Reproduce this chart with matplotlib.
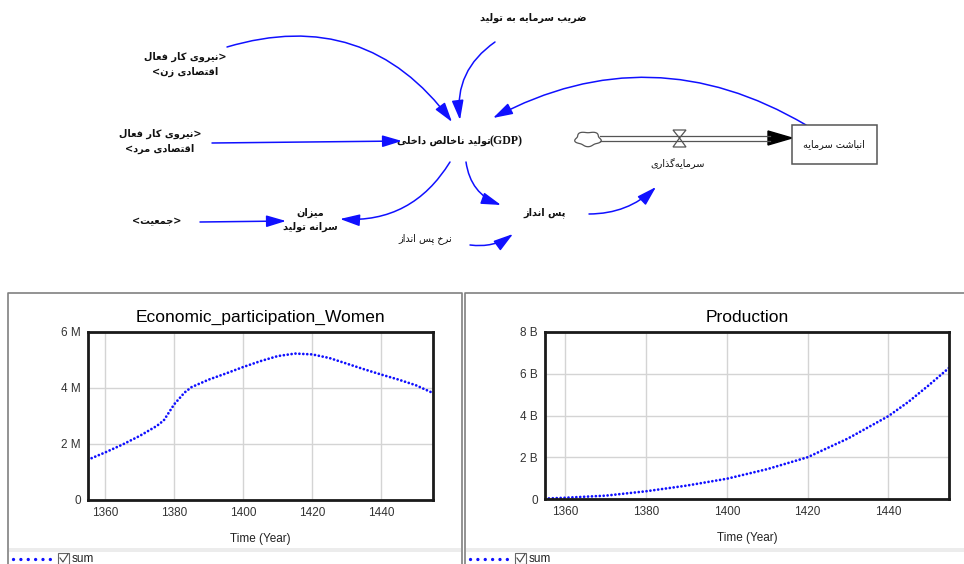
import numpy as np
import matplotlib.pyplot as plt
from matplotlib.patches import FancyArrowPatch, Rectangle, Polygon, ArrowStyle
from matplotlib.ticker import FuncFormatter

# simulation output
YEARS_W = [1355, 1360, 1365, 1370, 1375, 1377, 1380, 1383, 1385, 1390, 1395, 1400,
           1405, 1410, 1415, 1420, 1425, 1430, 1435, 1440, 1445, 1450, 1455]
WOMEN = [1.44, 1.70, 1.98, 2.29, 2.65, 2.85, 3.42, 3.84, 4.03, 4.30, 4.52, 4.75,
         4.96, 5.14, 5.23, 5.20, 5.07, 4.87, 4.67, 4.48, 4.30, 4.10, 3.82]  # millions
YEARS_P = [1355, 1360, 1370, 1380, 1390, 1400, 1410, 1420, 1430, 1440, 1445, 1450, 1455]
PRODUCTION = [0.02, 0.06, 0.16, 0.37, 0.64, 0.97, 1.43, 2.0, 2.9, 3.97, 4.66, 5.45, 6.28]  # billions

X_TICKS = [1360, 1380, 1400, 1420, 1440]
BLUE = '#1010ff'
FA = 'DejaVu Sans'

# --- minimal Persian shaping: (isolated, final, initial, medial) ---
FORMS = {
    'ا': ('\uFE8D', '\uFE8E', None, None),
    'آ': ('\uFE81', '\uFE82', None, None),
    'ب': ('\uFE8F', '\uFE90', '\uFE91', '\uFE92'),
    'پ': ('\uFB56', '\uFB57', '\uFB58', '\uFB59'),
    'ت': ('\uFE95', '\uFE96', '\uFE97', '\uFE98'),
    'ج': ('\uFE9D', '\uFE9E', '\uFE9F', '\uFEA0'),
    'خ': ('\uFEA5', '\uFEA6', '\uFEA7', '\uFEA8'),
    'د': ('\uFEA9', '\uFEAA', None, None),
    'ذ': ('\uFEAB', '\uFEAC', None, None),
    'ر': ('\uFEAD', '\uFEAE', None, None),
    'ز': ('\uFEAF', '\uFEB0', None, None),
    'س': ('\uFEB1', '\uFEB2', '\uFEB3', '\uFEB4'),
    'ش': ('\uFEB5', '\uFEB6', '\uFEB7', '\uFEB8'),
    'ص': ('\uFEB9', '\uFEBA', '\uFEBB', '\uFEBC'),
    'ض': ('\uFEBD', '\uFEBE', '\uFEBF', '\uFEC0'),
    'ع': ('\uFEC9', '\uFECA', '\uFECB', '\uFECC'),
    'ف': ('\uFED1', '\uFED2', '\uFED3', '\uFED4'),
    'ق': ('\uFED5', '\uFED6', '\uFED7', '\uFED8'),
    'ک': ('\uFB8E', '\uFB8F', '\uFB90', '\uFB91'),
    'گ': ('\uFB92', '\uFB93', '\uFB94', '\uFB95'),
    'ل': ('\uFEDD', '\uFEDE', '\uFEDF', '\uFEE0'),
    'م': ('\uFEE1', '\uFEE2', '\uFEE3', '\uFEE4'),
    'ن': ('\uFEE5', '\uFEE6', '\uFEE7', '\uFEE8'),
    'ه': ('\uFEE9', '\uFEEA', '\uFEEB', '\uFEEC'),
    'و': ('\uFEED', '\uFEEE', None, None),
    'ی': ('\uFBFC', '\uFBFD', '\uFBFE', '\uFBFF'),
}


def fa(text):
    """shape Persian text and return it in visual (left-to-right) order"""
    out = []
    for i, c in enumerate(text):
        if c not in FORMS:
            if c != '\u200c':
                out.append(c)
            continue
        prev = text[i - 1] if i > 0 else ''
        nxt = text[i + 1] if i + 1 < len(text) else ''
        j_prev = prev in FORMS and FORMS[prev][2] is not None
        j_next = nxt in FORMS and FORMS[c][2] is not None
        iso, fin, ini, med = FORMS[c]
        if j_prev and j_next:
            out.append(med)
        elif j_prev:
            out.append(fin)
        elif j_next:
            out.append(ini)
        else:
            out.append(iso)
    return ''.join(out[::-1])


fig = plt.figure(figsize=(9.64, 5.64), dpi=100)
bg = fig.add_axes([0, 0, 1, 1])
bg.set_xlim(0, 964)
bg.set_ylim(564, 0)
bg.axis('off')


def label(x, y, s, bold=True, size=7, ha='center'):
    bg.text(x, y, s, ha=ha, va='center', fontsize=size, family=FA,
            fontweight='bold' if bold else 'normal', color='#111111')


label(533, 18, fa('ضریب سرمایه به تولید'))
label(185, 57, fa('نیروی کار فعال') + '>')
label(185, 72, '<' + fa('اقتصادی زن'))
label(160, 134, fa('نیروی کار فعال') + '>')
label(160, 149, '<' + fa('اقتصادی مرد'))
label(491, 141, fa('تولید ناخالص داخلی'), ha='right')
bg.text(490, 141, '(GDP)', ha='left', va='center', fontsize=8.5, family='Liberation Serif',
        fontweight='bold', color='#111111')
label(157, 221, '<' + fa('جمعیت') + '>')
label(310, 213, fa('میزان'))
label(310, 227, fa('سرانه تولید'))
label(425, 239, fa('نرخ پس انداز'), bold=False)
label(545, 213, fa('پس انداز'))
label(678, 164, fa('سرمایه‌گذاری'), bold=False)
label(834, 144, fa('انباشت سرمایه'), bold=False)

# causal links
head = ArrowStyle('-|>', head_length=1.0, head_width=0.3)
links = [((227, 47), (452, 122), -0.35),
         ((495, 42), (460, 120), 0.3),
         ((212, 143), (402, 141), 0.0),
         ((806, 125), (493, 118), 0.28),
         ((450, 162), (340, 219), -0.3),
         ((466, 162), (501, 205), 0.3),
         ((200, 222), (286, 221), 0.0),
         ((470, 245), (513, 234), 0.2),
         ((589, 214), (656, 187), 0.2)]
for a, b, rad in links:
    bg.add_patch(FancyArrowPatch(a, b, arrowstyle=head, mutation_scale=12,
                                 connectionstyle=f'arc3,rad={rad}', color=BLUE,
                                 lw=1.1, shrinkA=0, shrinkB=0))

# flow pipe, valve, cloud and stock
bg.plot([600, 770], [135.5, 135.5], color='#555555', lw=0.9)
bg.plot([600, 770], [140.5, 140.5], color='#555555', lw=0.9)
bg.add_patch(Polygon([(768, 131), (792, 138), (768, 145)], closed=True, color='black'))
bg.add_patch(Polygon([(673, 130), (686, 130), (679.5, 138)], closed=True,
                     facecolor='white', edgecolor='#555555', lw=0.9))
bg.add_patch(Polygon([(679.5, 138), (673, 147), (686, 147)], closed=True,
                     facecolor='white', edgecolor='#555555', lw=0.9))
t = np.linspace(0, 2 * np.pi, 120)
r = 1 + 0.1 * np.sin(5 * t)
bg.add_patch(Polygon(np.column_stack([588 + 12.5 * r * np.cos(t), 139 + 7 * r * np.sin(t)]),
                     closed=True, facecolor='white', edgecolor='#555555', lw=0.9))
bg.add_patch(Rectangle((792, 125), 85, 39, facecolor='white', edgecolor='#555555', lw=1.1))

# graph panel frames
pc = '#808080'
bg.plot([8, 8, 462, 462], [564, 293, 293, 564], color=pc, lw=1.2)
bg.plot([465, 465, 964], [564, 293, 293], color=pc, lw=1.2)
for x0, x1 in [(9, 461), (466, 964)]:
    bg.add_patch(Rectangle((x0, 548), x1 - x0, 4, color='#ececec', lw=0))
    bg.plot([x0 + 4, x0 + 44], [559, 559], color=BLUE, lw=2.4, linestyle=(0, (0.01, 2.2)),
            dash_capstyle='round')
    bg.add_patch(Rectangle((x0 + 49, 553), 11, 11, facecolor='white', edgecolor='#666666', lw=0.8))
    bg.plot([x0 + 51, x0 + 54, x0 + 59], [558, 562, 554], color='#444444', lw=0.8)
    bg.text(x0 + 63, 559, 'sum', fontsize=8.5, family='Liberation Sans', va='center', color='#222222')


def graph(rect, title, years, vals, ymax, ystep, unit):
    ax = fig.add_axes(rect)
    ax.plot(years, vals, color=BLUE, lw=2.0, linestyle=(0, (0.01, 1.4)),
            dash_capstyle='round', clip_on=True)
    ax.set_xlim(1355, 1455)
    ax.set_ylim(0, ymax)
    ax.set_xticks(X_TICKS)
    ax.set_yticks(np.arange(0, ymax + ystep / 2, ystep))
    ax.yaxis.set_major_formatter(FuncFormatter(lambda v, p: '0' if v == 0 else f'{v:.0f} {unit}'))
    ax.grid(color='#d4d4d4', lw=1)
    ax.set_axisbelow(True)
    ax.tick_params(length=0, labelsize=8.5, labelcolor='#333333', pad=5)
    for lab in ax.get_xticklabels() + ax.get_yticklabels():
        lab.set_family('Liberation Sans')
    for s in ax.spines.values():
        s.set_linewidth(2)
        s.set_color('#1a1a1a')
    ax.set_title(title, fontsize=12.5, family='Liberation Sans', pad=7)
    ax.set_xlabel('Time (Year)', fontsize=8.5, family='Liberation Sans', labelpad=10, color='#222222')
    return ax


graph([88 / 964, 64 / 564, 345 / 964, 168 / 564], 'Economic_participation_Women',
      YEARS_W, WOMEN, 6, 2, 'M')
graph([545 / 964, 65 / 564, 404 / 964, 167 / 564], 'Production',
      YEARS_P, PRODUCTION, 8, 2, 'B')

fig.savefig('out.png', dpi=100)
